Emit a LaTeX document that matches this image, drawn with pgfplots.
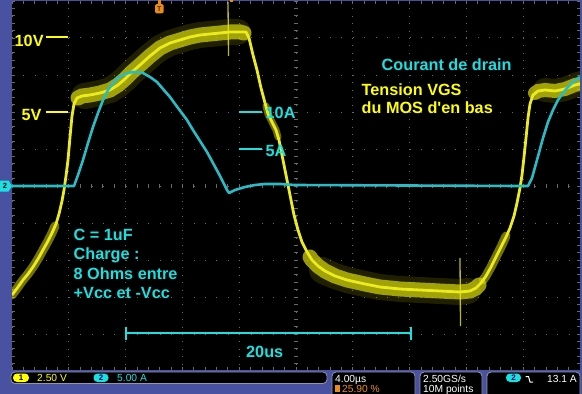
\documentclass[border=0pt]{standalone}
\usepackage{pgfplots}
\pgfplotsset{compat=1.18}
\usepackage{fontspec}
\setmainfont{Liberation Sans}[Ligatures=TeXOff]
\definecolor{scopeblue}{RGB}{72,82,160}
\definecolor{tyel}{RGB}{235,235,30}
\definecolor{tyelmid}{RGB}{212,212,12}
\definecolor{tyelband}{RGB}{150,150,0}
\definecolor{tcyan}{RGB}{40,188,198}
\definecolor{txtcyan}{RGB}{25,225,225}
\definecolor{txtyel}{RGB}{255,255,0}
\definecolor{gridc}{RGB}{105,105,105}
\definecolor{boxedge}{RGB}{150,150,170}
\definecolor{tekorange}{RGB}{235,140,25}
\newcommand{\bigf}{\bfseries\fontsize{16.3}{18}\selectfont}
\newcommand{\smallf}{\fontsize{10.3}{12}\selectfont}
\begin{document}
\begin{tikzpicture}
\begin{axis}[
  scale only axis, width=568bp, height=369bp,
  xmin=12, xmax=580, ymin=1, ymax=370, y dir=reverse,
  axis background/.style={fill=black},
  axis line style={draw=none},
  xtick={12,68.8,125.6,182.4,239.2,296,352.8,409.6,466.4,523.2,580},
  ytick={1,38,75,112,149,186,223,260,297,334,371},
  xticklabels={}, yticklabels={},
  minor x tick num=4, minor y tick num=4,
  tick align=inside, major tick length=3bp, minor tick length=3bp,
  tick style={gridc, line width=0.8bp},
  grid=major,
  x grid style={gridc, line width=1bp, dash pattern=on 1bp off 6.4bp},
  y grid style={gridc, line width=1bp, dash pattern=on 1bp off 10.36bp},
  clip mode=individual,
]
% center graticule combs
\draw[gridc, line width=4bp, dash pattern=on 0.8bp off 10.56bp] (axis cs:11.6,186) -- (axis cs:580,186);
\draw[gridc, line width=4bp, dash pattern=on 0.8bp off 6.6bp] (axis cs:296,0.6) -- (axis cs:296,370);

% ---- yellow trace (VGS) noise bands
\addplot[tyelmid, line width=9bp, opacity=0.55, line cap=round] coordinates {
(12,295) (18,287) (23,280) (28,274) (33,267) (38,259) (43,250) (48,241) (52,233) (55,226)};
\addplot[tyelband, line width=26bp, opacity=0.22, line cap=round] coordinates {
(84,96) (90,95) (100,93) (110,90) (118,85) (125,79) (132,72) (140,65) (150,56) (160,48) (170,43) (180,40) (190,37) (200,35) (210,34) (220,33) (230,32) (238,32)};
\addplot[tyelmid, line width=15bp, opacity=0.72, line cap=round] coordinates {
(78,98) (82,96) (90,95) (100,93) (110,90) (118,85) (125,79) (132,72) (140,65) (150,56) (160,48) (170,43) (180,40) (190,37) (200,35) (210,34) (220,33) (230,32) (240,32) (244,33)};
\addplot[tyelband, line width=26bp, opacity=0.22, line cap=round] coordinates {
(322,270) (325,272) (335,276) (347,280) (365,284) (380,287) (400,289) (420,290) (440,291) (460,292) (468,291)};
\addplot[tyelmid, line width=15bp, opacity=0.72, line cap=round] coordinates {
(310,257) (312,260) (318,266) (325,271) (335,276) (347,280) (365,284) (380,287) (400,289) (420,290) (440,291) (460,292) (470,291) (476,288) (479,285)};
\addplot[tyelmid, line width=9bp, opacity=0.55, line cap=round] coordinates {
(483,280) (486,276) (491,267) (496,257) (501,247) (506,236)};
\addplot[tyelband, line width=24bp, opacity=0.22, line cap=round] coordinates {
(545,90) (555,91) (565,89) (575,85) (585,82)};
\addplot[tyelmid, line width=14bp, opacity=0.72, line cap=round] coordinates {
(535,93) (538,91) (545,90) (555,91) (565,89) (575,85) (580,84)};
\addplot[tyelmid, line width=7bp, opacity=0.5, line cap=round] coordinates {
(266,106) (268,114) (272,122) (276,130) (278,137)};
% spikes
\addplot[tyel, line width=1.3bp, opacity=0.8] coordinates {(228,2) (228.5,56)};
\addplot[tyel, line width=1.3bp, opacity=0.8] coordinates {(460,258) (460.5,326)};
% core
\addplot[tyel, line width=2.8bp, line join=round] coordinates {
(12,295) (18,287) (23,280) (28,274) (33,267) (38,259) (43,250) (48,241) (52,233) (56,224) (59,214) (62,201) (64,190) (66,176) (68,160) (70,137) (72,116) (74,104) (77,98) (82,96) (90,95) (100,93) (110,90) (118,85) (125,79) (132,72) (140,65) (150,56) (160,48) (170,43) (180,40) (190,37) (200,35) (210,34) (220,33) (230,32) (240,32) (246,32) (249,38) (253,55) (257,70) (261,88) (265,103) (268,114) (272,122) (276,130) (279,140) (282,155) (285,170) (288,185) (291,200) (294,215) (298,230) (302,242) (307,252) (312,260) (318,266) (325,271) (335,276) (347,280) (365,284) (380,287) (400,289) (420,290) (440,291) (460,292) (470,291) (476,288) (481,283) (486,276) (491,267) (496,257) (501,247) (506,237) (510,228) (514,216) (517,203) (520,188) (522,175) (524,157) (526,138) (528,118) (530,104) (533,95) (538,91) (545,90) (555,91) (565,89) (575,85) (580,84)};

% ---- cyan trace (drain current)
\addplot[tcyan, line width=2.6bp, line join=round] coordinates {
(12,186) (74,186) (78,175) (83,160) (88,143) (93,127) (98,113) (103,100) (108,90) (113,83) (118,78) (123,75) (128,73) (133,72) (138,72) (143,73) (150,77) (157,82) (163,89) (170,97) (178,108) (187,120) (193,130) (200,141) (207,152) (213,163) (220,176) (227,190) (229,193) (235,190) (245,187) (255,185) (265,184) (280,184) (295,185) (520,186) (528,186) (532,178) (537,160) (543,138) (548,122) (553,110) (558,100) (563,93) (568,87) (573,82) (577,79) (580,77)};

% ---- level markers
\draw[txtyel, line width=2bp] (axis cs:46,37.5) -- (axis cs:68,37.5);
\draw[txtyel, line width=2bp] (axis cs:46,111.5) -- (axis cs:68,111.5);
\node[anchor=base west, inner sep=0, text=txtyel, font=\bigf] at (axis cs:14.5,46.5) {10V};
\node[anchor=base west, inner sep=0, text=txtyel, font=\bigf] at (axis cs:21.5,120.5) {5V};
\draw[txtcyan, line width=2bp] (axis cs:239,112.3) -- (axis cs:262,112.3);
\draw[txtcyan, line width=2bp] (axis cs:239,149.3) -- (axis cs:262,149.3);
\node[anchor=base west, inner sep=0, text=txtcyan, font=\bigf] at (axis cs:265.5,118) {10A};
\node[anchor=base west, inner sep=0, text=txtcyan, font=\bigf] at (axis cs:265.5,156) {5A};

% ---- annotations
\node[anchor=base west, inner sep=0, text=txtcyan, font=\bigf] at (axis cs:381.5,70) {Courant de drain};
\node[anchor=base west, inner sep=0, text=txtyel, font=\bigf] at (axis cs:361.5,95) {Tension VGS};
\node[anchor=base west, inner sep=0, text=txtyel, font=\bigf] at (axis cs:361.5,113.5) {du MOS d'en bas};
\node[anchor=base west, inner sep=0, text=txtcyan, font=\bigf] at (axis cs:73.5,240) {C = 1uF};
\node[anchor=base west, inner sep=0, text=txtcyan, font=\bigf] at (axis cs:73.5,259.5) {Charge :};
\node[anchor=base west, inner sep=0, text=txtcyan, font=\bigf] at (axis cs:73.5,279) {8 Ohms entre};
\node[anchor=base west, inner sep=0, text=txtcyan, font=\bigf] at (axis cs:73.5,298.5) {+Vcc et -Vcc};
\draw[txtcyan, line width=2bp] (axis cs:126,333.3) -- (axis cs:411,333.3);
\draw[txtcyan, line width=2bp] (axis cs:126,327) -- (axis cs:126,340);
\draw[txtcyan, line width=2bp] (axis cs:411,327) -- (axis cs:411,340);
\node[anchor=base west, inner sep=0, text=txtcyan, font=\bigf] at (axis cs:246,357) {20us};

% ---- frame
\fill[scopeblue] (axis cs:0,-1) rectangle (axis cs:12,395);
\fill[scopeblue] (axis cs:0,-1) rectangle (axis cs:583,1);
\fill[scopeblue] (axis cs:580,-1) rectangle (axis cs:583,395);
\fill[scopeblue] (axis cs:0,370) rectangle (axis cs:583,395);
% channel 2 ground tag
\fill[txtcyan] (axis cs:0,180.5) -- (axis cs:8.5,180.5) -- (axis cs:12,186) -- (axis cs:8.5,191.5) -- (axis cs:0,191.5) -- cycle;
\node[inner sep=0, text=black, font=\bfseries\fontsize{7.5}{8}\selectfont] at (axis cs:5,186) {2};
% trigger markers
\fill[tekorange] (axis cs:158,0) rectangle (axis cs:160.5,4);
\fill[tekorange, rounded corners=1.5bp] (axis cs:155,4) rectangle (axis cs:163.5,13.5);
\node[inner sep=0, text=black!70!tekorange, font=\bfseries\fontsize{7}{8}\selectfont] at (axis cs:159.3,9) {T};
\fill[tekorange] (axis cs:229.5,0) rectangle (axis cs:233,2.5);

% ---- status bar
\filldraw[fill=black, draw=boxedge, line width=0.8bp, rounded corners=4bp] (axis cs:11,372) rectangle (axis cs:327,383.5);
\filldraw[fill=black, draw=boxedge, line width=0.8bp, rounded corners=4bp] (axis cs:332,372) rectangle (axis cs:415,398);
\filldraw[fill=black, draw=boxedge, line width=0.8bp, rounded corners=4bp] (axis cs:420,372) rectangle (axis cs:482,398);
\filldraw[fill=black, draw=boxedge, line width=0.8bp, rounded corners=4bp] (axis cs:487,372) rectangle (axis cs:580,398);
\fill[txtyel, rounded corners=4bp] (axis cs:13,373.5) rectangle (axis cs:29,382);
\node[inner sep=0, text=black, font=\bfseries\fontsize{8}{9}\selectfont] at (axis cs:21,377.8) {1};
\node[anchor=base west, inner sep=0, text=txtyel, font=\smallf] at (axis cs:37,381.5) {2.50 V};
\fill[txtcyan, rounded corners=4bp] (axis cs:93.5,373.5) rectangle (axis cs:108.5,382);
\node[inner sep=0, text=black!60!blue, font=\bfseries\fontsize{8}{9}\selectfont] at (axis cs:101,377.8) {2};
\node[anchor=base west, inner sep=0, text=txtcyan, font=\smallf] at (axis cs:117,381.5) {5.00 A};
\node[anchor=base west, inner sep=0, text=white, font=\smallf] at (axis cs:335,382) {4.00µs};
\fill[tekorange] (axis cs:335,384.5) rectangle (axis cs:339.5,392);
\node[anchor=base west, inner sep=0, text=tekorange, font=\smallf] at (axis cs:342,392) {25.90 \%};
\node[anchor=base west, inner sep=0, text=white, font=\smallf] at (axis cs:423,382) {2.50GS/s};
\node[anchor=base west, inner sep=0, text=white, font=\smallf] at (axis cs:423,392) {10M points};
\fill[txtcyan, rounded corners=4bp] (axis cs:506,373.5) rectangle (axis cs:521,382);
\node[inner sep=0, text=black!60!blue, font=\bfseries\fontsize{8}{9}\selectfont] at (axis cs:513.5,377.8) {2};
\draw[white, line width=1bp] (axis cs:525.5,376.5) -- (axis cs:528.5,376.5) -- (axis cs:530,382) -- (axis cs:533,382);
\node[anchor=base east, inner sep=0, text=white, font=\smallf] at (axis cs:577,382) {13.1 A};
\end{axis}
\pgfresetboundingbox
\path[use as bounding box] ([xshift=-12bp,yshift=1bp]current axis.north west) rectangle ([xshift=2bp,yshift=-24bp]current axis.south east);
\end{tikzpicture}
\end{document}
